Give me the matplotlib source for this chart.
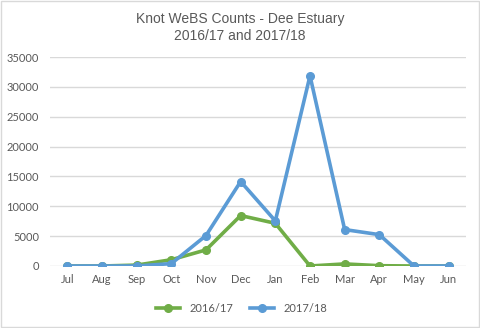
import matplotlib.pyplot as plt
from matplotlib.patches import Rectangle

months = ['Jul', 'Aug', 'Sep', 'Oct', 'Nov', 'Dec', 'Jan', 'Feb', 'Mar', 'Apr', 'May', 'Jun']
counts_1617 = [0, 0, 150, 1050, 2700, 8450, 7150, 0, 350, 50, 0, 0]
counts_1718 = [0, 0, 0, 400, 5100, 14150, 7550, 31850, 6100, 5250, 0, 0]

plt.rcParams['font.family'] = ['Lato', 'DejaVu Sans']

fig = plt.figure(figsize=(4.8, 3.28), dpi=100)
ax = fig.add_axes([50/480, 1 - 266/328, 416/480, 209/328])

x = range(len(months))
ax.plot(x, counts_1617, color='#70AD47', linewidth=2.6, marker='o', markersize=5.5, label='2016/17', zorder=3)
ax.plot(x, counts_1718, color='#5B9BD5', linewidth=2.6, marker='o', markersize=5.5, label='2017/18', zorder=4)

ax.set_xlim(-0.5, len(months) - 0.5)
ax.set_ylim(0, 35000)
ax.set_yticks(range(0, 35001, 5000))
ax.set_xticks(list(x))
ax.set_xticklabels(months)
ax.grid(axis='y', color='#D9D9D9', linewidth=1)
ax.set_axisbelow(True)
for s in ax.spines.values():
    s.set_visible(False)
ax.tick_params(length=0, labelsize=8, labelcolor='#595959', pad=6)
ax.tick_params(axis='y', pad=8)

# titel etwas tiefer, wie im Original
fig.suptitle('Knot WeBS Counts - Dee Estuary\n2016/17 and 2017/18', y=0.962, fontsize=10,
             color='#595959', family='Liberation Sans', linespacing=1.2)

ax.legend(loc='upper center', bbox_to_anchor=(0.46, -0.13), ncol=2, frameon=False,
          fontsize=8, labelcolor='#595959', handlelength=2.2, columnspacing=1.5)

fig.patches.append(Rectangle((0.002, 0.003), 0.995, 0.994, transform=fig.transFigure,
                             fill=False, edgecolor='#D9D9D9', linewidth=1))

plt.savefig('out.png')
